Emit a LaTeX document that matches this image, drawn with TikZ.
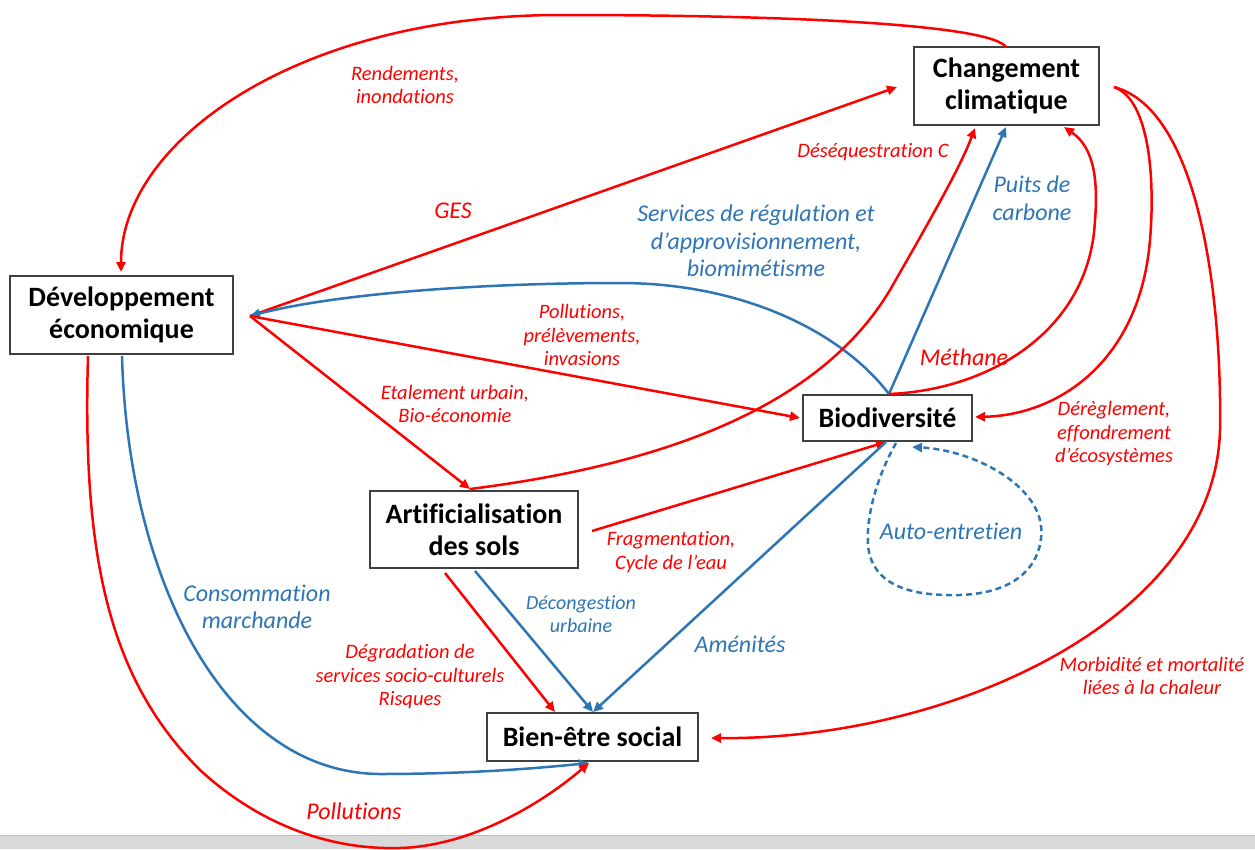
\documentclass[tikz,border=0pt]{standalone}
\usepackage{fontspec}
\setmainfont{Carlito}[Ligatures={NoCommon}]
\usetikzlibrary{arrows.meta,calc}
\definecolor{cred}{HTML}{FF0000}
\definecolor{cblue}{HTML}{2E75B6}
\definecolor{cbox}{HTML}{404040}
\definecolor{cband}{HTML}{D9D9D9}
\begin{document}
\begin{tikzpicture}[x=1pt,y=-1pt,
  box/.style={draw=cbox, line width=1.6pt, fill=white, align=center, inner sep=0pt,
    font=\fontsize{28}{32}\selectfont\bfseries},
  rlab/.style={text=cred, align=center, inner sep=0pt, font=\fontsize{20.5}{23.5}\selectfont\itshape},
  blab/.style={text=cblue, align=center, inner sep=0pt, font=\fontsize{24}{27.5}\selectfont\itshape},
  biglab/.style={font=\fontsize{24}{27.5}\selectfont\itshape},
  redarr/.style={draw=cred, line width=2.5pt, -{Triangle[length=10pt,width=9pt]}},
  bluearr/.style={draw=cblue, line width=2.5pt, -{Triangle[length=10pt,width=9pt]}},
  loopdash/.style={draw=cblue, line width=2.5pt, dash pattern=on 6pt off 4pt, -{Triangle[length=10pt,width=9pt]}}
]
\useasboundingbox (0,0) rectangle (1255,849);
\fill[white] (0,0) rectangle (1255,849);
\fill[cband] (0,835) rectangle (1255,849);
\draw[color=black!25, line width=1pt] (0,835) -- (1255,835);

% nodes
\node[box, minimum width=185pt, minimum height=78pt] (chg) at (1006.5,86) {Changement\\climatique};
\node[box, minimum width=223pt, minimum height=78pt] (dev) at (121.5,315) {Développement\\économique};
\node[box, minimum width=169pt, minimum height=46pt] (bio) at (887.5,418) {Biodiversité};
\node[box, minimum width=208pt, minimum height=77pt] (art) at (474,529.5) {Artificialisation\\des sols};
\node[box, minimum width=211pt, minimum height=48pt] (bien) at (592.5,737) {Bien-être social};

% connection points
\coordinate (devR) at (250,316);
\coordinate (devT) at (121,272);
\coordinate (devB1) at (88,356);
\coordinate (devB2) at (122,356);
\coordinate (chgT) at (1006,47);
\coordinate (chgL) at (897,87);
\coordinate (chgR) at (1114,87);
\coordinate (chgB1) at (975,128);
\coordinate (chgB2) at (1006,127);
\coordinate (chgB3) at (1064,127);
\coordinate (bioT) at (889,394);
\coordinate (bioL) at (800,418);
\coordinate (bioR) at (975,417);
\coordinate (bioB) at (886,442);
\coordinate (bioB2) at (896,443);
\coordinate (bioB3) at (912,447);
\coordinate (artT) at (470,489);
\coordinate (artR) at (592,531);
\coordinate (artB1) at (445,573);
\coordinate (artB2) at (475,571);
\coordinate (bienT1) at (555,712);
\coordinate (bienT2) at (593,712);
\coordinate (bienR) at (711,738);
\coordinate (bienB) at (589,763);

% edges
\draw[redarr] (chgT) .. controls (990,25) and (800,15) .. (560,15)
   .. controls (300,15) and (121,140) .. (devT);
\node[rlab] (l1) at (405,85) {Rendements,\\inondations};

\draw[redarr] (devR) -- (chgL);
\node[rlab, biglab] (l2) at (453,211) {GES};

\draw[bluearr] (bioT) .. controls (840,330) and (740,283) .. (620,283)
   .. controls (470,283) and (330,295) .. (devR);
\node[blab] (l3) at (756,241) {Services de régulation et\\d’approvisionnement,\\biomimétisme};

\draw[redarr] (devR) -- (bioL);
\node[rlab] (l4) at (582,335) {Pollutions,\\prélèvements,\\invasions};

\draw[redarr] (devR) -- (artT);
\node[rlab] (l5) at (455,404) {Etalement urbain,\\Bio-économie};

\draw[redarr] (artT) .. controls (700,460) and (830,390) .. (890,290)
   .. controls (930,220) and (960,168) .. (chgB1);
\node[rlab] (l6) at (873,152) {Déséquestration C};

\draw[bluearr] (bioT) -- (chgB2);
\node[blab] (l7) at (1032,198) {Puits de\\carbone};

\draw[redarr] (bioT) .. controls (990,390) and (1090,330) .. (1095,220)
   .. controls (1099,170) and (1090,145) .. (chgB3);
\node[rlab, biglab] (l8) at (964,357) {Méthane};

\draw[redarr] (chgR) .. controls (1150,100) and (1155,180) .. (1150,240)
   .. controls (1140,360) and (1060,415) .. (bioR);
\node[rlab] (l9) at (1114,434) {Dérèglement,\\effondrement\\d’écosystèmes};

\draw[redarr] (chgR) .. controls (1200,110) and (1222,300) .. (1220,430)
   .. controls (1215,620) and (950,740) .. (bienR);
\node[rlab] (l10) at (1152,676) {Morbidité et mortalité\\liées à la chaleur};

\draw[redarr] (artR) -- (bioB);
\node[rlab] (l11) at (671,552) {Fragmentation,\\Cycle de l’eau};

\draw[bluearr] (bioB) -- (bienT2);
\node[blab] (l12) at (740,644) {Aménités};

\draw[bluearr] (artB2) -- (bienT2);
\node[blab, font=\fontsize{20}{22.5}\selectfont\itshape] (l13) at (581,614) {Décongestion\\urbaine};

\draw[redarr] (artB1) -- (bienT1);
\node[rlab] (l14) at (410,677) {Dégradation de\\services socio-culturels\\Risques};

\draw[bluearr] (devB2) .. controls (128,580) and (225,773) .. (380,774)
   .. controls (470,774) and (540,768) .. (bienB);
\node[blab] (l15) at (257,607) {Consommation\\marchande};

\draw[redarr] (devB1) .. controls (82,560) and (110,680) .. (200,770)
   .. controls (260,825) and (330,850) .. (400,848)
   .. controls (470,846) and (540,805) .. (bienB);
\node[blab, text=cred] (l16) at (354,811) {Pollutions};

\draw[loopdash] (bioB2) .. controls (875,480) and (866,520) .. (868,545)
   .. controls (872,590) and (920,596) .. (960,595)
   .. controls (1040,592) and (1045,540) .. (1040,520)
   .. controls (1030,480) and (970,450) .. (bioB3);
\node[blab] (l17) at (951,531) {Auto-entretien};
\end{tikzpicture}
\end{document}
